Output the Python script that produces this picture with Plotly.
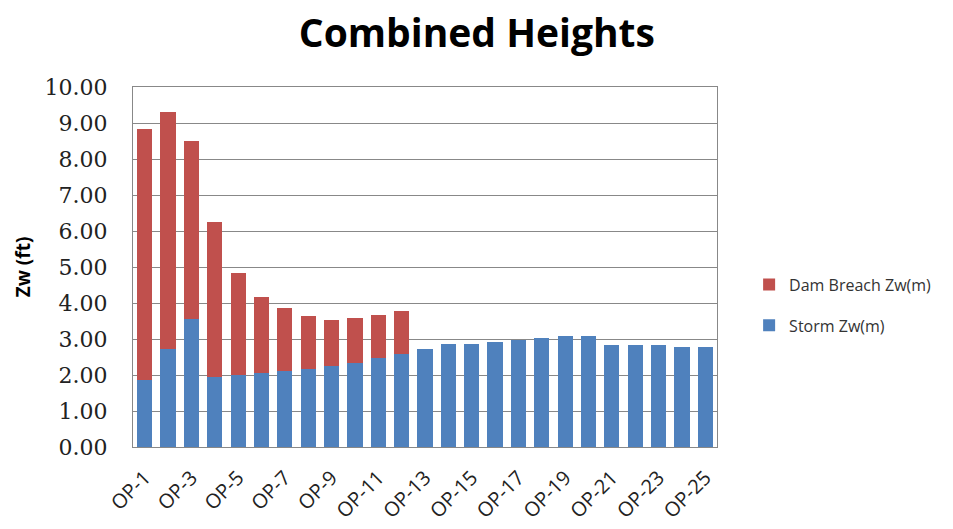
import plotly.graph_objects as go

categories = [f"OP-{i}" for i in range(1, 26)]
storm = [1.85, 2.71, 3.55, 1.94, 2.01, 2.06, 2.12, 2.18, 2.26, 2.34, 2.47, 2.59,
         2.73, 2.87, 2.87, 2.91, 2.98, 3.04, 3.09, 3.09, 2.82, 2.82, 2.82, 2.78, 2.78]
totals = [8.82, 9.31, 8.50, 6.24, 4.83, 4.16, 3.85, 3.63, 3.54, 3.57, 3.67, 3.77]
dam = [round(t - s, 2) for t, s in zip(totals, storm)] + [0] * (25 - len(totals))
tick_labels = categories[::2]
y_ticks = [i * 1.0 for i in range(11)]

fig = go.Figure()
fig.add_trace(go.Bar(x=categories, y=storm, name="Storm Zw(m)", legendgroup="s", legendrank=2,
                     marker=dict(color="#4F81BD", line=dict(width=0))))
fig.add_trace(go.Bar(x=categories, y=dam, name="Dam Breach Zw(m)", legendgroup="d", legendrank=1,
                     marker=dict(color="#C0504D", line=dict(width=0))))

fig.update_layout(
    width=953, height=529,
    barmode="stack", bargap=0.35,
    paper_bgcolor="white", plot_bgcolor="white",
    margin=dict(l=125, r=244, t=79, b=90),
    title=dict(text="<b>Combined Heights</b>", x=0.492, xanchor="center", y=0.953,
               yanchor="middle", font=dict(family="Open Sans", size=39, color="black")),
    legend=dict(traceorder="grouped", x=1.055, y=0.394, xanchor="left", yanchor="middle",
                font=dict(family="Open Sans", size=16, color="#333333"),
                itemsizing="constant", tracegroupgap=17, itemwidth=30),
    showlegend=True,
)
fig.update_xaxes(type="category", categoryorder="array", categoryarray=categories,
                 tickmode="array", tickvals=tick_labels, ticktext=tick_labels,
                 tickangle=-45, showgrid=False, showline=True, linecolor="#888888",
                 mirror=True, ticks="", ticklabelstandoff=10,
                 tickfont=dict(family="Open Sans", size=20, color="#222222"))
fig.update_yaxes(range=[0, 10], tickmode="array", tickvals=y_ticks,
                 ticktext=[f"{v:.2f}" for v in y_ticks],
                 showgrid=True, gridcolor="#888888", gridwidth=1,
                 showline=True, linecolor="#888888", mirror=True, zeroline=False,
                 ticks="", ticklabelstandoff=20,
                 tickfont=dict(family="DejaVu Serif", size=22, color="#222222"),
                 title=dict(text="<b>Zw (ft)</b>", font=dict(family="Open Sans", size=19, color="black"),
                            standoff=8))

fig.write_html("out.html")
